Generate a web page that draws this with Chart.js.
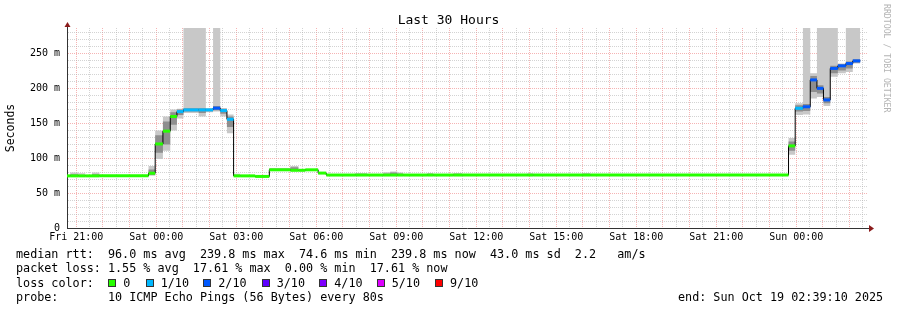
<!DOCTYPE html>
<html><head><meta charset="utf-8">
<script src="https://cdn.jsdelivr.net/npm/chart.js@4/dist/chart.umd.min.js"></script>
<style>
html,body{margin:0;padding:0;background:#fff;}
#wrap{position:relative;width:897px;height:310px;overflow:hidden;background:#fff;}
canvas{position:absolute;left:0;top:0;}
.t{position:absolute;font-family:"DejaVu Sans Mono",monospace;font-size:11.75px;white-space:pre;color:#000;line-height:14px;}
.box{position:absolute;width:8px;height:8px;box-sizing:border-box;border:1px solid #333;}
#title{position:absolute;left:0;width:897px;top:12px;text-align:center;font-family:"DejaVu Sans Mono",monospace;font-size:13px;line-height:16px;color:#000;}
#brand{position:absolute;left:882px;top:4px;writing-mode:vertical-rl;font-family:"DejaVu Sans Mono",monospace;font-size:8.2px;color:#b4b4b4;line-height:10px;white-space:pre;}
</style></head>
<body><div id="wrap"><canvas id="c" width="897" height="310"></canvas>
<div id="title">Last 30 Hours</div>
<div id="brand">RRDTOOL / TOBI OETIKER</div>
<div class="t" style="left:16px;top:247px;">median rtt:  96.0 ms avg  239.8 ms max  74.6 ms min  239.8 ms now  43.0 ms sd  2.2   am/s</div>
<div class="t" style="left:16px;top:261px;">packet loss: 1.55 % avg  17.61 % max  0.00 % min  17.61 % now</div>
<div class="t" style="left:16px;top:275.5px;">loss color:</div>
<div class="t" style="left:16px;top:289.5px;">probe:       10 ICMP Echo Pings (56 Bytes) every 80s</div>
<div class="t" style="left:678px;top:289.5px;">end: Sun Oct 19 02:39:10 2025</div>
</div>
<script>
// time in hours relative to Sat 00:00
const tStart = -3.3472, tEnd = 26.6528, dataEnd = 26.40;
const binStart = [-3.347,-3.225,-2.925,-2.66,-2.41,-2.13,-0.29,-0.04,0.25,0.525,0.775,1.02,1.59,1.86,2.13,2.40,2.65,2.90,3.15,3.71,4.24,5.03,5.33,5.59,6.07,6.375,7.46,7.91,8.51,8.77,9.04,9.26,10.16,10.39,11.14,11.47,13.91,14.14,15.97,16.275,23.71,23.96,24.25,24.525,24.775,25.02,25.275,25.56,25.86,26.12];
const median = [74.8,74.8,74.8,74.8,74.8,74.8,78.6,120.6,139,160,167,169.5,169.5,169.5,172,168.5,156,74.8,74.8,74,83.5,82.8,82.8,83.5,78.8,76,76,76,76,76,76,76,76,76,76,76,76,76,76,76,117.8,171.8,174,212.5,200.4,183.8,229,232.7,236,239.8];
const lossIdx = [0,0,0,0,0,0,0,0,0,0,1,1,1,1,2,1,1,0,0,0,0,0,0,0,0,0,0,0,0,0,0,0,0,0,0,0,0,0,0,0,0,1,2,2,2,2,2,2,2,2];
const smokeLo = [74.3,74.3,74.3,74.3,74.3,74.3,75,99,111,140,157,165,160,166,167,160,136,74.3,74.3,73.5,83,82.3,82.3,83,78.3,75.5,75.5,75.5,75.5,75.5,75.5,75.5,75.5,75.5,75.5,75.5,75.5,75.5,75.5,75.5,105,162,163,186,188,175,217,222,224,236];
const smokeHi = [75.3,79.5,78.5,75.3,79.5,75.3,89,140,160,170,171,300,300,172,300,172,163,78,75.3,74.5,86,89,83.3,84,79.3,76.5,79,76.5,80,81,79.5,76.5,79,76.5,79,76.5,78.5,76.5,79,76.5,129,179,300,222,300,300,300,236,300,300];
const innerLo = [74.5,74.5,74.5,74.5,74.5,74.5,76,108,120,148,162,167,165,167.5,169,164,145,74.5,74.5,73.7,83.2,82.5,82.5,83.2,78.5,75.7,75.7,75.7,75.7,75.7,75.7,75.7,75.7,75.7,75.7,75.7,75.7,75.7,75.7,75.7,111,167,168,195,193,179,222,226,229,237];
const innerHi = [75.1,77,76,75.1,77,75.1,84,133,153,166,170,172,172,171,175,171,160,76,75.1,74.3,85,87,83.1,83.8,79.1,76.3,77.5,76.3,78,79.5,78,76.3,77.5,76.3,77.5,76.3,77,76.3,77.5,76.3,124,176,178,218,205,188,233,235,239,242];

const xTickHours = [-3,0,3,6,9,12,15,18,21,24];
const xTickLabels = ['Fri 21:00','Sat 00:00','Sat 03:00','Sat 06:00','Sat 09:00','Sat 12:00','Sat 15:00','Sat 18:00','Sat 21:00','Sun 00:00'];
const yTickValues = [0,50,100,150,200,250];
const yTickLabels = ['0','50 m','100 m','150 m','200 m','250 m'];
const yMax = 287;

const lossColors = ['#26ff00','#00b8ff','#0059ff','#5e00ff','#7e00ff','#dd00ff','#ff0000'];
const lossLabels = ['0','1/10','2/10','3/10','4/10','5/10','9/10'];
const lossLegendX = [108.3,145.7,203.3,261.7,319.3,376.7,435];

// legend
(function(){
  const wrap = document.getElementById('wrap');
  lossLabels.forEach((lab,i)=>{
    const b = document.createElement('div');
    b.className='box'; b.style.left=lossLegendX[i]+'px'; b.style.top='279px'; b.style.background=lossColors[i];
    wrap.appendChild(b);
    const t = document.createElement('div');
    t.className='t'; t.style.left=(lossLegendX[i]+15)+'px'; t.style.top='275.5px'; t.textContent=lab;
    wrap.appendChild(t);
  });
})();

function binEnd(i){ return i+1<binStart.length ? binStart[i+1] : dataEnd; }
function stepPts(vals){
  const p = binStart.map((x,i)=>({x:x,y:vals[i]}));
  p.push({x:dataEnd,y:vals[vals.length-1]});
  return p;
}
const medSegPts = [];
binStart.forEach((x,i)=>{
  medSegPts.push({x:x,y:median[i]},{x:binEnd(i),y:median[i]},{x:binEnd(i),y:null});
});

const gridHours = [];
for (let h=-3; h<=26.5; h+=0.5) gridHours.push(h);
const yGrid = [];
for (let v=0; v<=280; v+=10) yGrid.push(v);

const arrows = {
  id:'arrows',
  afterDraw(chart){
    const {ctx, chartArea:a} = chart;
    ctx.save();
    ctx.strokeStyle='#333'; ctx.lineWidth=1;
    ctx.beginPath(); ctx.moveTo(a.right, a.bottom+0.5); ctx.lineTo(a.right+3, a.bottom+0.5); ctx.stroke();
    ctx.beginPath(); ctx.moveTo(a.left+0.5, a.top); ctx.lineTo(a.left+0.5, a.top-2); ctx.stroke();
    ctx.fillStyle='#8b1c1c';
    ctx.beginPath(); ctx.moveTo(a.right+2, a.bottom-3); ctx.lineTo(a.right+7, a.bottom+0.5); ctx.lineTo(a.right+2, a.bottom+4); ctx.closePath(); ctx.fill();
    ctx.beginPath(); ctx.moveTo(a.left-2.5, a.top-1); ctx.lineTo(a.left+0.5, a.top-6); ctx.lineTo(a.left+3.5, a.top-1); ctx.closePath(); ctx.fill();
    ctx.restore();
  }
};

const mono = '"DejaVu Sans Mono", monospace';
const STEP = 'before';
new Chart(document.getElementById('c'), {
  type:'line',
  data:{datasets:[
    {data:medSegPts, borderColor:lossColors[0], borderWidth:3, borderCapStyle:'butt', pointRadius:0, fill:false,
     segment:{borderColor: ctx => lossColors[lossIdx[Math.floor(ctx.p0DataIndex/3)]]}},
    {data:stepPts(median), stepped:STEP, borderColor:'#000', borderWidth:1, pointRadius:0, fill:false},
    {data:stepPts(innerHi), stepped:STEP, borderWidth:0, borderColor:'rgba(0,0,0,0)', pointRadius:0, fill:'+1', backgroundColor:'#8e8e8e'},
    {data:stepPts(innerLo), stepped:STEP, borderWidth:0, borderColor:'rgba(0,0,0,0)', pointRadius:0, fill:false},
    {data:stepPts(smokeHi), stepped:STEP, borderWidth:0, borderColor:'rgba(0,0,0,0)', pointRadius:0, fill:'+1', backgroundColor:'#c8c8c8'},
    {data:stepPts(smokeLo), stepped:STEP, borderWidth:0, borderColor:'rgba(0,0,0,0)', pointRadius:0, fill:false}
  ]},
  options:{
    responsive:false, animation:false, devicePixelRatio:1,
    layout:{padding:{left:0,right:30,top:28,bottom:0}},
    plugins:{ legend:{display:false}, tooltip:{enabled:false}, title:{display:false} },
    scales:{
      x:{type:'linear', min:tStart, max:tEnd,
        afterBuildTicks: s => { s.ticks = gridHours.map(v=>({value:v})); },
        afterFit: s => { s.height = 82; },
        ticks:{autoSkip:false, maxRotation:0, padding:3, color:'#000', font:{family:mono,size:10},
          callback: v => { const i = xTickHours.indexOf(v); return i>=0 ? xTickLabels[i] : ''; }},
        grid:{drawTicks:false, lineWidth:1, color: c => (c.tick && Number.isInteger(c.tick.value)) ? 'rgba(240,140,140,0.65)' : 'rgba(175,175,175,0.55)'},
        border:{display:true, color:'#333', width:1, dash:[1,1]}
      },
      y:{type:'linear', min:0, max:yMax,
        afterBuildTicks: s => { s.ticks = yGrid.map(v=>({value:v})); },
        afterFit: s => { s.width = 67; },
        ticks:{autoSkip:false, padding:7, color:'#000', font:{family:mono,size:10},
          callback: v => { const i = yTickValues.indexOf(v); return i>=0 ? yTickLabels[i] : ''; }},
        grid:{drawTicks:false, lineWidth:1, color: c => (c.tick && c.tick.value % 50 === 0) ? 'rgba(240,140,140,0.65)' : 'rgba(175,175,175,0.55)'},
        border:{display:true, color:'#333', width:1, dash:[1,1]},
        title:{display:true, text:'Seconds', color:'#000', font:{family:mono,size:11.5}, padding:{top:4,bottom:0}}
      }
    }
  },
  plugins:[arrows]
});
</script>
</body></html>
